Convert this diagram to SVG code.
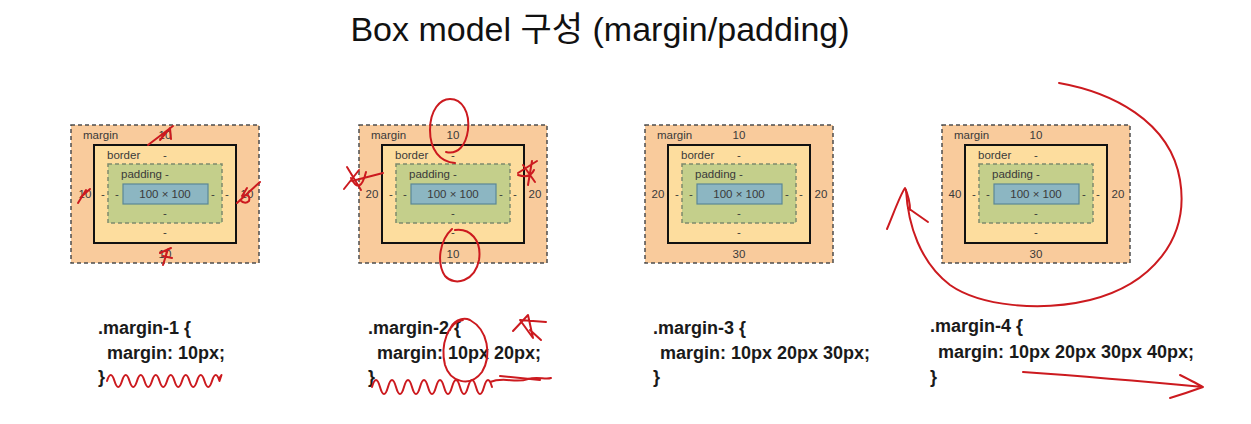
<svg xmlns="http://www.w3.org/2000/svg" width="1251" height="424" viewBox="0 0 1251 424">
  <defs>
    <style>
      .margin { fill: #f9cb9c; stroke: #4d4d4d; stroke-width: 1.5; stroke-dasharray: 4 3; }
      .border { fill: #fddd9e; stroke: #111; stroke-width: 2; }
      .padding { fill: #c4cf8b; stroke: #7d8a6e; stroke-width: 1.5; stroke-dasharray: 4 3; }
      .content { fill: #8cb6c2; stroke: #5b8796; stroke-width: 1.2; }
      .lbl { font-family: "Liberation Sans", Arial, sans-serif; font-size: 11.5px; fill: #3a3a3a; }
      .mid { text-anchor: middle; }
      .code { font-family: "Liberation Sans", Arial, sans-serif; font-size: 18px; font-weight: bold; fill: #1a1a1a; }
      .title { font-family: "Liberation Sans", "Noto Sans CJK KR", sans-serif; font-size: 34px; fill: #111; }
      .pen { fill: none; stroke: #cc1a1f; stroke-width: 2; stroke-linecap: round; stroke-linejoin: round; }
    </style>
    <!-- one box-model figure; value labels are added per instance -->
    <g id="boxmodel">
      <rect class="margin" x="71" y="125" width="188" height="138"/>
      <rect class="border" x="94" y="145" width="142" height="98"/>
      <rect class="padding" x="108" y="164" width="114" height="59"/>
      <rect class="content" x="123" y="184" width="85" height="20"/>
      <text class="lbl" x="83" y="139">margin</text>
      <text class="lbl" x="107" y="159">border</text>
      <text class="lbl mid" x="165" y="159">-</text>
      <text class="lbl" x="121" y="178">padding -</text>
      <text class="lbl mid" x="165" y="198">100 × 100</text>
      <text class="lbl mid" x="103" y="198">-</text>
      <text class="lbl mid" x="117" y="198">-</text>
      <text class="lbl mid" x="213" y="198">-</text>
      <text class="lbl mid" x="227" y="198">-</text>
      <text class="lbl mid" x="165" y="217">-</text>
      <text class="lbl mid" x="165" y="236">-</text>
    </g>
  </defs>

  <text class="title" x="600" y="41" text-anchor="middle">Box model 구성 (margin/padding)</text>

  <g id="box-1">
    <use href="#boxmodel"/>
    <text class="lbl mid" x="165" y="139">10</text>
    <text class="lbl mid" x="85" y="198">10</text>
    <text class="lbl mid" x="247" y="198">10</text>
    <text class="lbl mid" x="165" y="258">10</text>
    <text class="code" x="98" y="334">.margin-1 {</text>
    <text class="code" x="107" y="359">margin: 10px;</text>
    <text class="code" x="98" y="383">}</text>
  </g>

  <g id="box-2">
    <use href="#boxmodel" x="288"/>
    <text class="lbl mid" x="453" y="139">10</text>
    <text class="lbl mid" x="372" y="198">20</text>
    <text class="lbl mid" x="535" y="198">20</text>
    <text class="lbl mid" x="453" y="258">10</text>
    <text class="code" x="368" y="334">.margin-2 {</text>
    <text class="code" x="377" y="359">margin: 10px 20px;</text>
    <text class="code" x="368" y="383">}</text>
  </g>

  <g id="box-3">
    <use href="#boxmodel" x="574"/>
    <text class="lbl mid" x="739" y="139">10</text>
    <text class="lbl mid" x="658" y="198">20</text>
    <text class="lbl mid" x="821" y="198">20</text>
    <text class="lbl mid" x="739" y="258">30</text>
    <text class="code" x="653" y="334">.margin-3 {</text>
    <text class="code" x="660" y="359">margin: 10px 20px 30px;</text>
    <text class="code" x="653" y="383">}</text>
  </g>

  <g id="box-4">
    <use href="#boxmodel" x="871"/>
    <text class="lbl mid" x="1036" y="139">10</text>
    <text class="lbl mid" x="955" y="198">40</text>
    <text class="lbl mid" x="1118" y="198">20</text>
    <text class="lbl mid" x="1036" y="258">30</text>
    <text class="code" x="930" y="332">.margin-4 {</text>
    <text class="code" x="938" y="358">margin: 10px 20px 30px 40px;</text>
    <text class="code" x="930" y="383">}</text>
  </g>

  <!-- red pen marks -->
  <g id="connectors" class="pen">
    <!-- box 1: overwritten values -->
    <path d="M148,145 L173,126 M160,140 L170,128 L171,139"/>
    <path d="M78,203 L86,190 M81,197 L90,189"/>
    <path d="M237,203 L260,182 M247,188 L242,196 Q251,193 249,201 Q245,205 240,200"/>
    <path d="M160,253 L171,248 M168,249 L163,265 M163,256 L172,258"/>
    <path d="M107,381 q3.75,-12 7.5,0 t7.5,0 t7.5,0 t7.5,0 t7.5,0 t7.5,0 t7.5,0 t7.5,0 t7.5,0 t7.5,0 t7.5,0 t7.5,0 t7.5,0 t7.5,0 t7.5,0 l2,-6 l-2,3"/>

    <!-- box 2: circles and stars -->
    <path d="M455,163 C440,162 430,150 430,130 C430,110 440,99 450,99 C462,99 470,112 468,130 C466,145 458,155 446,152"/>
    <path d="M452,229 C440,240 436,262 445,276 C455,287 475,281 479,260 C482,240 470,228 455,230"/>
    <path d="M383,173 L352,181 M347,167 L361,190 M359,170 L344,189 M351,178 Q360,196 366,172"/>
    <path d="M518,173 L537,161 M532,161 L528,185 M523,165 L535,182 M518,175 Q530,179 534,170"/>
    <path d="M463,320 C448,322 440,345 445,365 C450,382 470,388 482,372 C492,355 488,330 470,320 C462,316 452,322 450,330"/>
    <path d="M513,331 L528,315 L533,338 L520,320 L546,322 M530,330 L541,340"/>
    <path d="M372,387 q4,-14 8,0 t8,0 t8,0 t8,0 t8,0 t8,0 t8,0 t8,0 t8,0 t8,0 t8,0 t8,0 t8,0 t8,0 t8,0 M490,382 C505,376 515,384 528,379 C538,376 545,380 551,378 M500,376 L540,380"/>

    <!-- box 4: sweep around the box and arrow under the code -->
    <path d="M1059,83 C1110,92 1170,120 1180,180 C1190,240 1150,285 1090,300 C1040,312 980,306 950,285 C920,262 908,225 906,190"/>
    <path d="M887,229 C893,215 900,195 905,188 C908,195 910,203 910,210 M908,208 L928,222"/>
    <path d="M1023,372 C1080,376 1150,382 1203,387 M1180,375 C1190,380 1198,384 1203,387 C1192,391 1180,395 1170,398"/>
  </g>
</svg>
